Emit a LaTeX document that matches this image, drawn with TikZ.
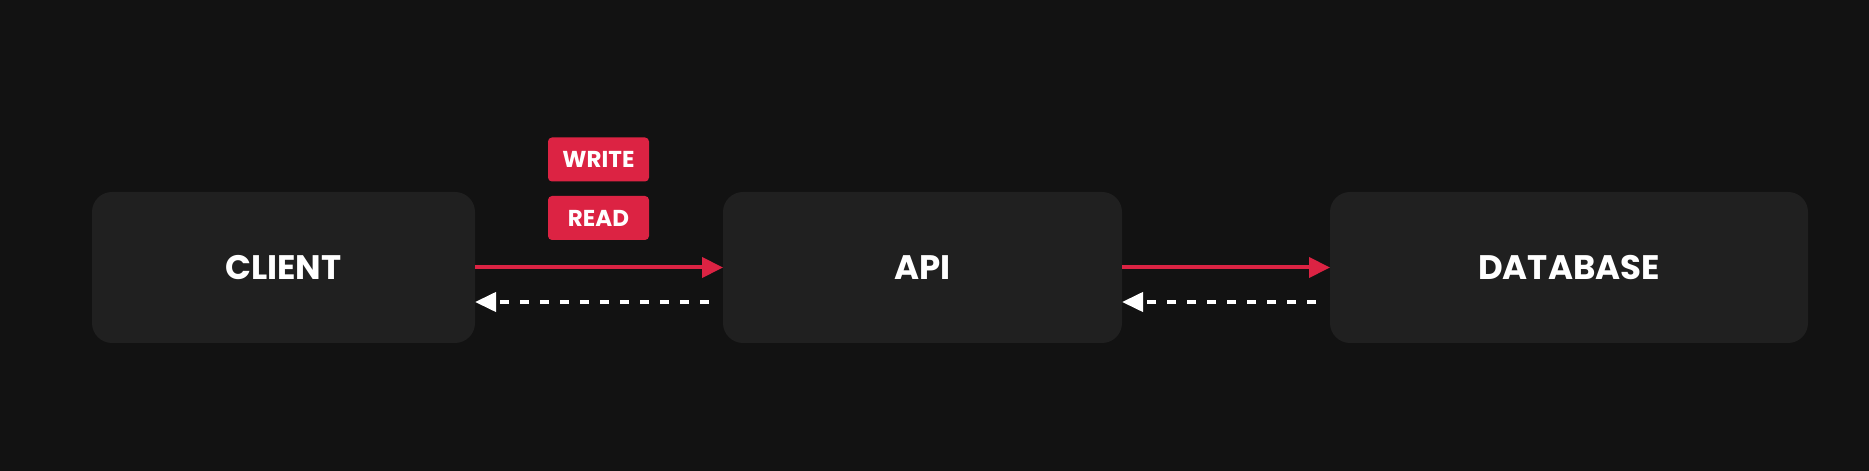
\documentclass[tikz,border=0pt]{standalone}
\usepackage{fontspec}
\setmainfont{Poppins}
\usetikzlibrary{arrows.meta}
\definecolor{bgdark}{HTML}{121212}
\definecolor{boxgray}{HTML}{202020}
\definecolor{tagred}{HTML}{DC2343}
\begin{document}
\begin{tikzpicture}[x=1pt,y=1pt,
	tier/.style={fill=boxgray, rounded corners=20pt, minimum height=151pt, outer sep=0pt,
		text=white, font=\fontsize{34}{34}\selectfont\bfseries},
	tag/.style={fill=tagred, rounded corners=4pt, minimum width=101pt, minimum height=44pt,
		outer sep=0pt, text=white, font=\fontsize{23}{23}\selectfont\bfseries},
	request/.style={tagred, line width=4pt, -{Triangle[length=21pt,width=20pt]}},
	response/.style={white, line width=4pt, dash pattern=on 9pt off 11pt, shorten <=14pt,
		-{Triangle[length=21pt,width=19pt]}}]
	\fill[bgdark] (0,0) rectangle (1869,471);
	\useasboundingbox (0,0) rectangle (1869,471);
	% the three tiers
	\node[tier, minimum width=383pt] (client) at (283.5,203.5) {CLIENT};
	\node[tier, minimum width=399pt] (api) at (922.5,203.5) {API};
	\node[tier, minimum width=478pt] (db) at (1569,203.5) {DATABASE};
	% request kinds
	\node[tag] (write) at (598.5,311.5) {WRITE};
	\node[tag] (read) at (598.5,253) {READ};
	% requests go right, responses come back
	\draw[request] (client.east) -- (api.west);
	\draw[request] (api.east) -- (db.west);
	\draw[response] ([yshift=-34.5pt]api.west) -- ([yshift=-34.5pt]client.east);
	\draw[response] ([yshift=-34.5pt]db.west) -- ([yshift=-34.5pt]api.east);
\end{tikzpicture}
\end{document}
